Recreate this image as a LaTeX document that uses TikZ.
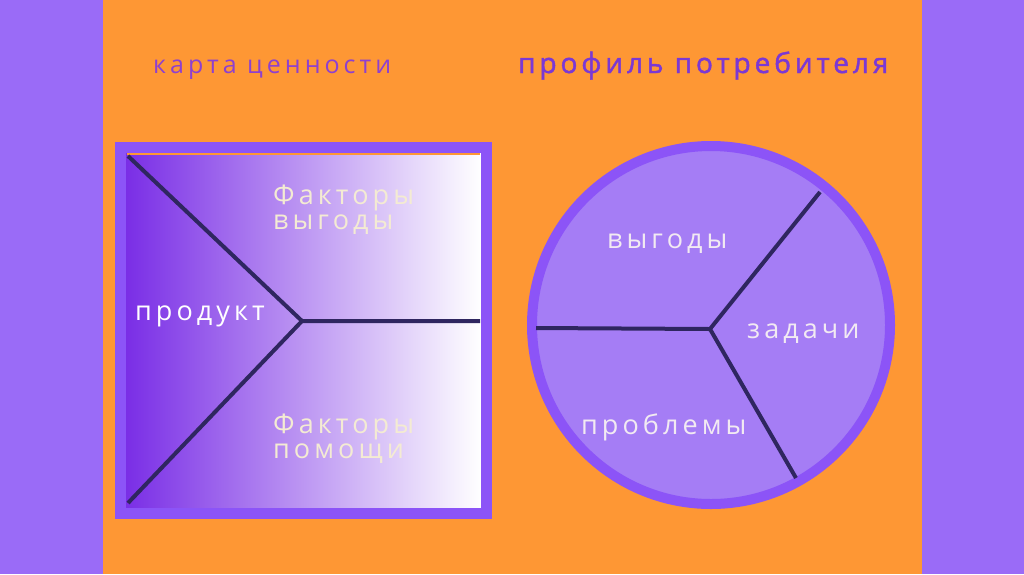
\documentclass[tikz,border=0pt]{standalone}
\usepackage{fontspec}
\setmainfont{Open Sans}
\newfontfamily\spacedfont[LetterSpace=15]{Open Sans}
\newfontfamily\lefttitle[LetterSpace=16]{Open Sans}
\newfontfamily\boldtitle[LetterSpace=14,FakeBold=1.6]{Open Sans}
\usetikzlibrary{positioning,calc}
\definecolor{sidebar}{HTML}{9A6BF7}
\definecolor{orangebg}{HTML}{FE9734}
\definecolor{frame}{HTML}{8C54F7}
\definecolor{deepviolet}{HTML}{7A2EE6}
\definecolor{midviolet}{HTML}{A680F0}
\definecolor{pie}{HTML}{A57DF5}
\definecolor{spoke}{HTML}{2F2660}
\definecolor{titleleft}{HTML}{8E40CF}
\definecolor{titleright}{HTML}{7B38D4}
\definecolor{cream}{HTML}{F4EBD3}
\definecolor{lightlab}{HTML}{F2EAF2}
\begin{document}
\begin{tikzpicture}[
x=1pt,y=-1pt,
title/.style={
  anchor=base west,
  inner sep=0pt,
  font=\lefttitle\fontsize{25}{28}\selectfont
},
lab/.style={
  anchor=base west,
  inner sep=0pt,
  align=left,
  font=\spacedfont\fontsize{27}{24}\selectfont
},
line/.style={
  draw=spoke,
  line width=4pt
}
]
\useasboundingbox (0,0) rectangle (1024,574);
\fill[sidebar] (0,0) rectangle (1024,574);
\fill[orangebg] (103,0) rectangle (922,574);

\node[title,text=titleleft] (mapt) at (153,73) {карта ценности};
\node[title,text=titleright,font=\boldtitle\fontsize{28}{28}\selectfont] (profilet) at (518,73) {профиль потребителя};

\shade[left color=deepviolet,middle color=midviolet,right color=white] (126,153) rectangle (481,508);
\draw[frame,line width=11pt] (120.5,147.5) rectangle (486.5,513.5);
\draw[orangebg,line width=1.2pt] (127,154) -- (480,154);

\coordinate (sqtop) at (128,156);
\coordinate (sqmid) at (302,321);
\coordinate (sqright) at (480,321);
\coordinate (sqbot) at (128,503);
\draw[line] (sqtop) -- (sqmid) -- (sqright);
\draw[line] (sqmid) -- (sqbot);

\node[lab,text=white] (product) at (135,320) {продукт};
\node[lab,text=cream,font=\spacedfont\fontsize{27}{25}\selectfont] (gain) at (273,229) {Факторы\\выгоды};
\node[lab,text=cream,font=\spacedfont\fontsize{27}{25}\selectfont] (help) at (273,458) {Факторы\\помощи};

\node[circle,draw=frame,fill=pie,line width=10pt,minimum size=358pt,inner sep=0pt] (profile) at (711,325) {};

\coordinate (pc) at (710,329);
\coordinate (pleft) at (536,328);
\coordinate (pup) at (820,192);
\coordinate (pdown) at (796,478);
\draw[line] (pleft) -- (pc) -- (pup);
\draw[line] (pc) -- (pdown);

\node[lab,text=lightlab] (gains) at (607,248) {выгоды};
\node[lab,text=lightlab] (jobs) at (747,338) {задачи};
\node[lab,text=lightlab] (pains) at (581,434) {проблемы};
\end{tikzpicture}
\end{document}
